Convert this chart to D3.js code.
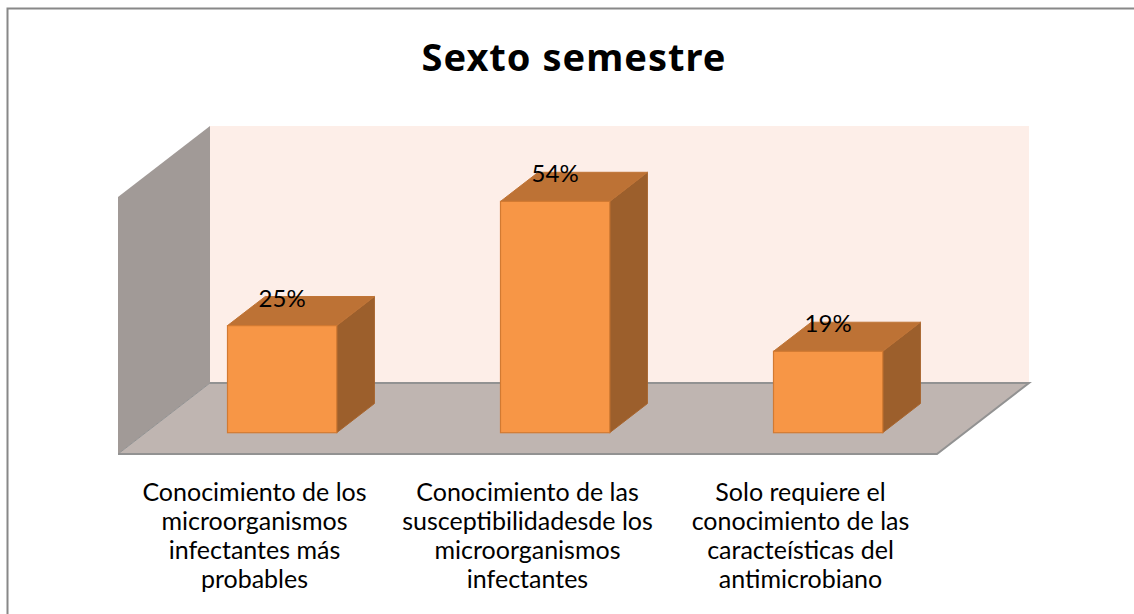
<!DOCTYPE html>
<html>
<head>
<meta charset="utf-8">
<script src="https://cdn.jsdelivr.net/npm/d3@7"></script>
<style>
  html, body { margin: 0; padding: 0; background: #fff; }
  svg { display: block; }
  text { font-family: Lato, "Open Sans", sans-serif; fill: #000; }
</style>
</head>
<body>
<div id="chart"></div>
<script>
const title = "Sexto semestre";
const categories = [
  "Conocimiento de los\nmicroorganismos\ninfectantes más\nprobables",
  "Conocimiento de las\nsusceptibilidadesde los\nmicroorganismos\ninfectantes",
  "Solo requiere el\nconocimiento de las\ncaracteísticas del\nantimicrobiano"
];
const values = [25, 54, 19];
const valueLabels = ["25%", "54%", "19%"];
const yDomain = [0, 60];

const W = 1134, H = 614;
const svg = d3.select("#chart").append("svg").attr("width", W).attr("height", H);

// border
svg.append("rect").attr("x", 7.5).attr("y", 8.5).attr("width", W).attr("height", H)
  .attr("fill", "#fff").attr("stroke", "#888").attr("stroke-width", 2);

// title
svg.append("text").attr("x", 574).attr("y", 71).attr("text-anchor", "middle")
  .style("font-family", "'Noto Sans', 'Open Sans', sans-serif")
  .style("letter-spacing", "1px")
  .attr("font-size", 38).attr("font-weight", 700).text(title);

// 3D geometry
const floorFrontY = 454, floorLeft = 118, floorRight = 937;
const depthX = 92, depthY = -71;
const proj = (x, y, d) => [x + d * depthX, y + d * depthY];

const y = d3.scaleLinear().domain(yDomain).range([0, 257]);

// side wall
const wallTop = y(yDomain[1]);
const side = [
  proj(floorLeft, floorFrontY, 0), proj(floorLeft, floorFrontY, 1),
  proj(floorLeft, floorFrontY - wallTop, 1), proj(floorLeft, floorFrontY - wallTop, 0)
];
svg.append("polygon").attr("points", side.map(p => p.join(",")).join(" "))
  .attr("fill", "#A19A97");

// back wall
const bw = [
  proj(floorLeft, floorFrontY, 1), proj(floorRight, floorFrontY, 1),
  proj(floorRight, floorFrontY - wallTop, 1), proj(floorLeft, floorFrontY - wallTop, 1)
];
svg.append("polygon").attr("points", bw.map(p => p.join(",")).join(" "))
  .attr("fill", "#FDEEE8");

// floor
const fl = [
  proj(floorLeft, floorFrontY, 0), proj(floorRight, floorFrontY, 0),
  proj(floorRight, floorFrontY, 1), proj(floorLeft, floorFrontY, 1)
];
svg.append("polygon").attr("points", fl.map(p => p.join(",")).join(" "))
  .attr("fill", "#BFB5B1");
svg.append("polyline")
  .attr("points", [fl[3], fl[2], fl[1], fl[0]].map(p => p.join(",")).join(" "))
  .attr("fill", "none").attr("stroke", "#929292").attr("stroke-width", 2);
svg.append("line").attr("x1", side[0][0]).attr("y1", side[0][1]).attr("x2", side[1][0]).attr("y2", side[1][1])
  .attr("stroke", "#929292").attr("stroke-width", 1);

// bars
const d0 = 0.3, d1 = 0.71;
const xFloor = d3.scaleBand().domain(categories)
  .range([floorLeft, floorRight])
  .paddingInner(0.6).paddingOuter(0.3);
const x = xFloor.copy().range([floorLeft + d0 * depthX, floorRight + d0 * depthX]);
const baseY = floorFrontY + d0 * depthY;
const dd = d1 - d0;
const g = svg.append("g");
categories.forEach((c, i) => {
  const x0 = x(c), x1 = x0 + x.bandwidth();
  const h = y(values[i]);
  const top = baseY - h;
  const ox = dd * depthX, oy = dd * depthY;
  const pts = a => a.map(p => p.join(",")).join(" ");
  g.append("polygon").attr("points", pts([[x1, top], [x1 + ox, top + oy], [x1 + ox, baseY + oy], [x1, baseY]]))
    .attr("fill", "#9C5F2C").attr("stroke", "#A8652E").attr("stroke-width", 1);
  g.append("polygon").attr("points", pts([[x0, top], [x0 + ox, top + oy], [x1 + ox, top + oy], [x1, top]]))
    .attr("fill", "#BD7235").attr("stroke", "#C07436").attr("stroke-width", 1);
  g.append("rect").attr("x", x0).attr("y", top).attr("width", x1 - x0).attr("height", h)
    .attr("fill", "#F79646").attr("stroke", "#D27A32").attr("stroke-width", 1.2);
  g.append("text").attr("x", x0 + x.bandwidth() / 2).attr("y", top - 19)
    .attr("text-anchor", "middle").attr("font-size", 24).text(valueLabels[i]);
});

// category labels (centered on the front edge of the floor)
categories.forEach((c, i) => {
  const cx = xFloor(c) + xFloor.bandwidth() / 2;
  const t = svg.append("text").attr("text-anchor", "middle").attr("font-size", 25);
  c.split("\n").forEach((line, j) => {
    t.append("tspan").attr("x", cx).attr("y", 501 + j * 29).text(line);
  });
});
</script>
</body>
</html>
